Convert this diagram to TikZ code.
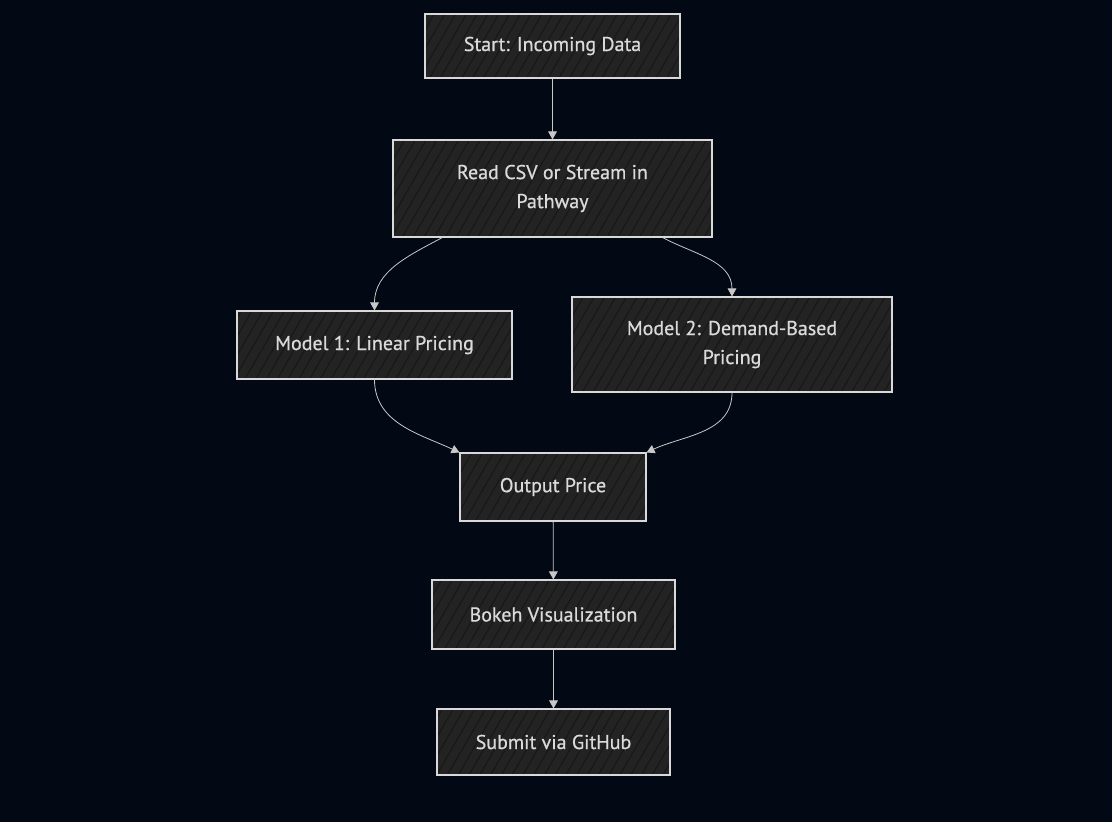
\documentclass[tikz,border=0pt]{standalone}
\usepackage{fontspec}
\setmainfont{PT Sans}
\newfontfamily\stagefont{PT Sans}[FakeBold=0.7]
\usetikzlibrary{arrows.meta,patterns.meta}
\definecolor{night}{HTML}{020814}
\definecolor{boxfill}{HTML}{232323}
\definecolor{hatch}{HTML}{171717}
\definecolor{edge}{HTML}{D9D9D9}
\definecolor{label}{HTML}{DADADA}
\definecolor{wire}{HTML}{C8C8C8}

\begin{document}
\begin{tikzpicture}[x=0.75pt,y=-0.75pt,font=\stagefont\fontsize{15}{21.75}\selectfont,
  stage/.style={draw=edge,line width=0.8pt,preaction={fill=boxfill},text=label,align=center,
    inner sep=0pt,pattern={Lines[angle=60,distance=7pt,line width=0.8pt]},pattern color=hatch},
  flow/.style={draw=wire,line width=0.6pt,-{Triangle[length=6pt,width=6.5pt]}}]
  % Page and background.
  \fill[night] (0,0) rectangle (1112,822);
  \useasboundingbox (0,0) rectangle (1112,822);

  % Stages, top to bottom; sizes follow the boxes (1px = 0.75pt).
  \node[stage,minimum width=191.25pt,minimum height=48pt] (start) at (552.5,46) {Start: Incoming Data};
  \node[stage,minimum width=239.25pt,minimum height=72.75pt] (read) at (552.5,188.5) {Read CSV or Stream in\\Pathway};
  \node[stage,minimum width=206.25pt,minimum height=51pt] (lin) at (374.5,345) {Model 1: Linear Pricing};
  \node[stage,minimum width=240pt,minimum height=71.25pt] (dem) at (732,344.5) {Model 2: Demand-Based\\Pricing};
  \node[stage,minimum width=139.5pt,minimum height=51pt] (price) at (553,487) {Output Price};
  \node[stage,minimum width=182.25pt,minimum height=51.75pt] (bokeh) at (553.5,614.5) {Bokeh Visualization};
  \node[stage,minimum width=174.75pt,minimum height=49.5pt] (submit) at (553.5,742) {Submit via GitHub};

  % Straight hand-offs down the middle column.
  \foreach \a/\b in {start/read,price/bokeh,bokeh/submit} {
    \draw[flow] (\a) -- (\b);
  }

  % The split into the two models and the merge back.
  \draw[flow] (read.204) to[out=208,in=90] (lin.north);
  \draw[flow] (read.336) to[out=-28,in=90] (dem.north);
  \draw[flow] (lin.south) to[out=-90,in=155] (price.north west);
  \draw[flow] (dem.south) to[out=-90,in=25] (price.north east);
\end{tikzpicture}
\end{document}
